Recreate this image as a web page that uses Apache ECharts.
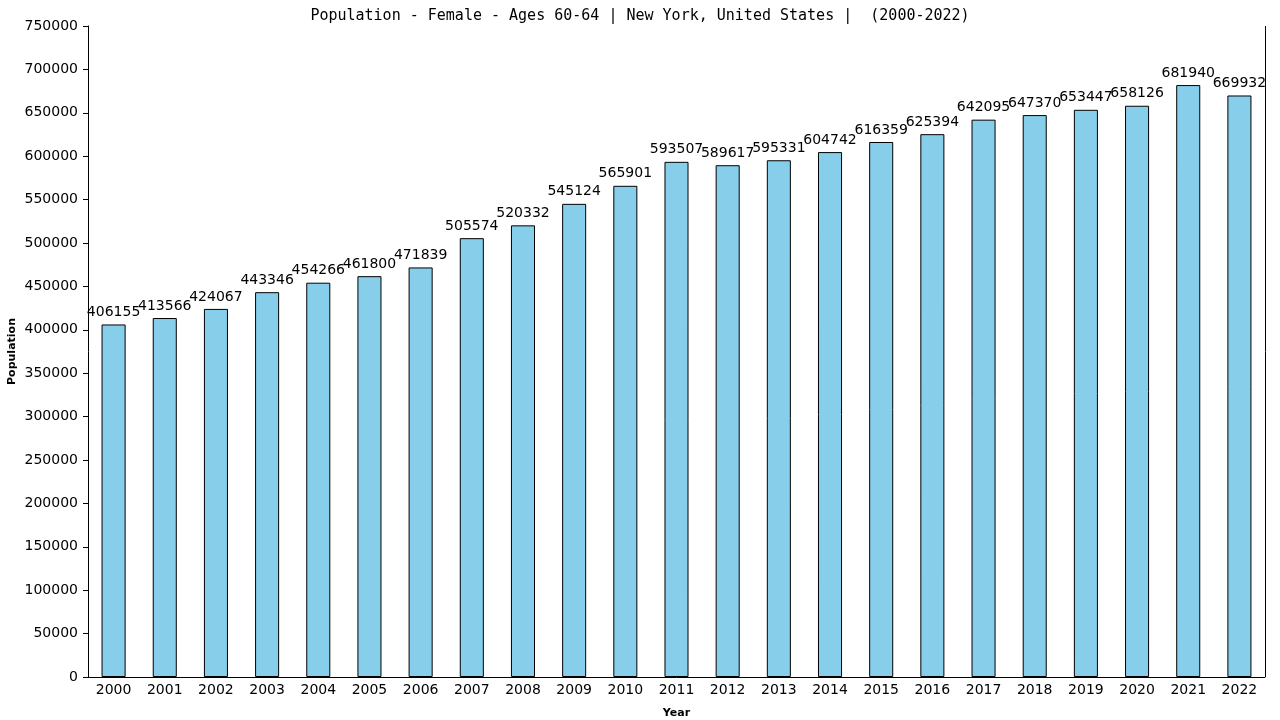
<!DOCTYPE html>
<html><head><meta charset="utf-8">
<script src="https://cdn.jsdelivr.net/npm/echarts@6/dist/echarts.min.js"></script>
<style>html,body{margin:0;padding:0;background:#fff}#c{width:1280px;height:720px}</style>
</head><body><div id="c"></div>
<script>
const years = ['2000','2001','2002','2003','2004','2005','2006','2007','2008','2009','2010','2011','2012','2013','2014','2015','2016','2017','2018','2019','2020','2021','2022'];
const population = [406155,413566,424067,443346,454266,461800,471839,505574,520332,545124,565901,593507,589617,595331,604742,616359,625394,642095,647370,653447,658126,681940,669932];
const titleText = 'Population - Female - Ages 60-64 | New York, United States |  (2000-2022)';

const chart = echarts.init(document.getElementById('c'));
chart.setOption({
  animation: false,
  title: {text: titleText, left: 'center', top: 4,
    textStyle: {fontFamily: 'DejaVu Sans Mono', fontSize: 15, fontWeight: 'normal', color: '#000'}},
  grid: {left: 88, right: 15, top: 26, bottom: 43, containLabel: false, outerBoundsMode: 'none'},
  xAxis: {type: 'category', data: years, name: 'Year', nameLocation: 'middle', nameGap: 31,
    nameTextStyle: {fontFamily: 'DejaVu Sans', fontSize: 11, fontWeight: 'bold', color: '#000'},
    axisLine: {lineStyle: {color: '#000', width: 1}}, axisTick: {show: false},
    axisLabel: {fontFamily: 'DejaVu Sans', fontSize: 14, color: '#000', margin: 6}},
  yAxis: {type: 'value', min: 0, max: 750000, interval: 50000, name: 'Population', nameLocation: 'middle', nameGap: 70,
    nameMoveOverlap: false,
    nameTextStyle: {fontFamily: 'DejaVu Sans', fontSize: 11, fontWeight: 'bold', color: '#000'},
    axisLine: {show: true, lineStyle: {color: '#000', width: 1}},
    axisTick: {show: true, length: 5, lineStyle: {color: '#000'}},
    splitLine: {show: false},
    axisLabel: {fontFamily: 'DejaVu Sans', fontSize: 14, color: '#000', margin: 10, formatter: v => String(v)}},
  series: [{type: 'bar', data: population, barWidth: '47%',
    itemStyle: {color: '#87CEEB', borderColor: '#000', borderWidth: 1},
    label: {show: true, position: 'top', distance: 5, fontFamily: 'DejaVu Sans', fontSize: 14, color: '#000'}},
    {type: 'line', data: [], markLine: {silent: true, symbol: 'none', label: {show: false},
      lineStyle: {color: '#000', type: 'solid', width: 1},
      data: [[{xAxis: 22, yAxis: 750000, x: 1265}, {xAxis: 22, yAxis: 0, x: 1265}]]}}]
});
</script></body></html>
